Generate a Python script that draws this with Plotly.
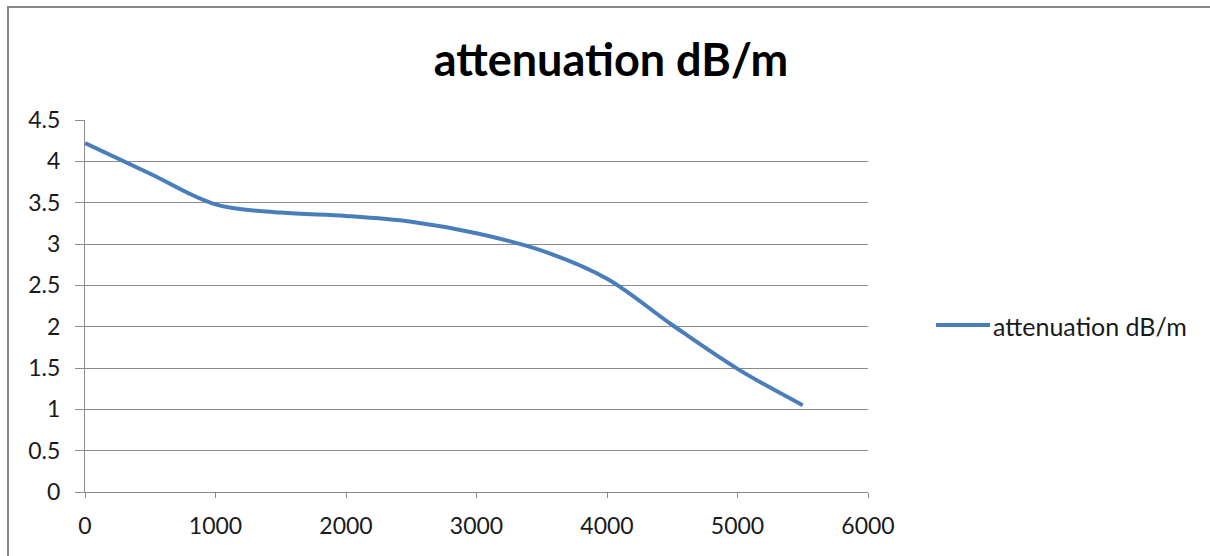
import plotly.graph_objects as go

# Data
distance = [0, 500, 1000, 1500, 2000, 2500, 3000, 3500, 4000, 4500, 5000, 5500]
attenuation = [4.22, 3.85, 3.48, 3.38, 3.34, 3.27, 3.13, 2.92, 2.58, 2.02, 1.49, 1.05]
series_name = "attenuation dB/m"
x_ticks = [0, 1000, 2000, 3000, 4000, 5000, 6000]
y_ticks = [0, 0.5, 1, 1.5, 2, 2.5, 3, 3.5, 4, 4.5]

W, H = 1210, 556
L, R, T, B = 85, 342, 120, 64
pw, ph = W - L - R, H - T - B

def px(xp):
    return (xp - L) / pw

def py(yp):
    return (H - B - yp) / ph

LINE_COLOR = "#4a7ebb"
GRID = "#8c8c8c"
FONT = "Lato"
TXT = "#1a1a1a"

fig = go.Figure()
fig.add_trace(go.Scatter(
    x=distance, y=attenuation, mode="lines", name=series_name,
    line=dict(color=LINE_COLOR, width=4, shape="spline", smoothing=1.0),
    showlegend=False,
))

fig.update_layout(
    width=W, height=H,
    margin=dict(l=L, r=R, t=T, b=B),
    paper_bgcolor="white", plot_bgcolor="white",
    font=dict(family=FONT, color=TXT, size=23),
    title=dict(text="<b>attenuation dB/m</b>", x=px(611), xref="paper",
               xanchor="center", y=1 - 60 / H, yanchor="middle",
               font=dict(family=FONT, size=45, color="black")),
    xaxis=dict(range=[0, 6000], tickvals=x_ticks, ticktext=[str(v) for v in x_ticks],
               showgrid=False, zeroline=False, showline=True, linecolor=GRID, linewidth=1,
               ticks="outside", ticklen=5, tickcolor=GRID, ticklabelstandoff=8,
               tickfont=dict(family=FONT, size=23, color=TXT)),
    yaxis=dict(range=[0, 4.5], tickvals=y_ticks, ticktext=[f"{v:g}" for v in y_ticks],
               showgrid=True, gridcolor=GRID, gridwidth=1, zeroline=False,
               showline=True, linecolor=GRID, linewidth=1,
               ticks="outside", ticklen=9, tickcolor=GRID, ticklabelstandoff=10,
               tickfont=dict(family=FONT, size=23, color=TXT)),
    shapes=[
        # chart border: top and left edges (the others are cropped off)
        dict(type="line", xref="paper", yref="paper",
             x0=px(7), x1=px(1230), y0=py(7), y1=py(7),
             line=dict(color="#888888", width=2)),
        dict(type="line", xref="paper", yref="paper",
             x0=px(8), x1=px(8), y0=py(6), y1=py(570),
             line=dict(color="#888888", width=2)),
        # legend line sample
        dict(type="line", xref="paper", yref="paper",
             x0=px(936), x1=px(990), y0=py(325), y1=py(325),
             line=dict(color=LINE_COLOR, width=4)),
    ],
    annotations=[
        dict(text=series_name, xref="paper", yref="paper", x=px(991), y=py(326),
             xanchor="left", yanchor="middle", showarrow=False,
             font=dict(family=FONT, size=25, color=TXT)),
    ],
)

fig.write_html("out.html")
